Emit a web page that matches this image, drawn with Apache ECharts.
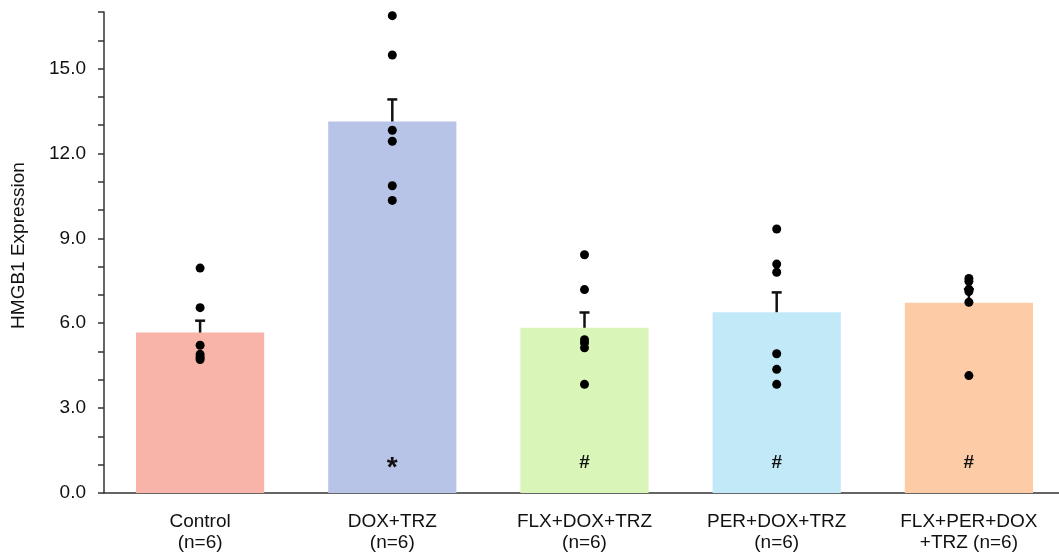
<!DOCTYPE html>
<html>
<head>
<meta charset="utf-8">
<title>HMGB1 Expression</title>
<script src="https://cdn.jsdelivr.net/npm/echarts@6/dist/echarts.min.js"></script>
<style>
html, body { margin: 0; padding: 0; background: #fff; }
#chart { width: 1059px; height: 554px; }
</style>
</head>
<body>
<div id="chart"></div>
<script>
// groups on the x axis
var categories = ['Control\n(n=6)', 'DOX+TRZ\n(n=6)', 'FLX+DOX+TRZ\n(n=6)', 'PER+DOX+TRZ\n(n=6)', 'FLX+PER+DOX\n+TRZ (n=6)'];
var barColors = ['#f8b4a8', '#b8c3e8', '#daf5b8', '#c2e9f8', '#fdcba6'];
var means = [5.67, 13.13, 5.84, 6.39, 6.72];
var sems = [0.42, 0.78, 0.54, 0.70, 0.48];
var marks = ['', '*', '#', '#', '#'];

// individual animals
var dotsControl = [7.95, 6.55, 5.22, 4.9, 4.8, 4.72];
var dotsDox = [16.87, 15.48, 12.82, 12.43, 10.86, 10.34];
var dotsFlx = [8.42, 7.19, 5.42, 5.3, 5.13, 3.84];
var dotsPer = [9.33, 8.09, 7.8, 4.92, 4.37, 3.84];
var dotsFlxPer = [7.58, 7.48, 7.2, 7.12, 6.74, 4.15];

var chart = echarts.init(document.getElementById('chart'));

var allDots = [dotsControl, dotsDox, dotsFlx, dotsPer, dotsFlxPer];
var scatterData = [];
allDots.forEach(function (arr, i) {
    arr.forEach(function (v) { scatterData.push([i, v]); });
});

var barData = means.map(function (v, i) {
    var star = marks[i] === '*';
    return {
        value: v,
        itemStyle: { color: barColors[i] },
        label: {
            formatter: marks[i],
            fontSize: star ? 28 : 19,
            distance: star ? 11 : 21
        }
    };
});

var errData = means.map(function (v, i) { return [i, v, v + sems[i]]; });

var option = {
    animation: false,
    textStyle: { fontFamily: 'Liberation Sans, Arial, sans-serif' },
    grid: { left: 104, right: -6, top: 12, bottom: 61, containLabel: false, outerBoundsMode: 'none' },
    xAxis: {
        type: 'category',
        data: categories,
        axisLine: { lineStyle: { color: '#333', width: 1.5 } },
        axisTick: { alignWithLabel: true, length: 6, lineStyle: { color: '#333', width: 1.5 } },
        axisLabel: { color: '#111', fontSize: 19, lineHeight: 21, margin: 18, interval: 0 }
    },
    yAxis: {
        type: 'value',
        min: 0,
        max: 17,
        interval: 1,
        name: 'HMGB1 Expression',
        nameLocation: 'middle',
        nameGap: 76,
        nameTextStyle: { color: '#111', fontSize: 19, padding: [0, 0, 0, 14] },
        splitLine: { show: false },
        axisLine: { show: true, lineStyle: { color: '#333', width: 1.5 } },
        axisTick: { show: true, inside: false, length: 6, lineStyle: { color: '#333', width: 1.5 } },
        axisLabel: {
            color: '#111', fontSize: 19, margin: 18, showMaxLabel: true,
            formatter: function (v) { return v % 3 === 0 ? v.toFixed(1) : ''; }
        }
    },
    series: [
        {
            type: 'bar',
            data: barData,
            barWidth: '66.7%',
            label: {
                show: true,
                position: 'insideBottom',
                color: '#111',
                fontWeight: 'bold'
            },
            z: 1
        },
        {
            type: 'custom',
            data: errData,
            renderItem: function (params, api) {
                var x = api.value(0);
                var lo = api.coord([x, api.value(1)]);
                var hi = api.coord([x, api.value(2)]);
                var half = 5;
                return {
                    type: 'group',
                    children: [
                        { type: 'line', shape: { x1: lo[0], y1: lo[1], x2: hi[0], y2: hi[1] }, style: { stroke: '#111', lineWidth: 2.5 } },
                        { type: 'line', shape: { x1: hi[0] - half, y1: hi[1], x2: hi[0] + half, y2: hi[1] }, style: { stroke: '#111', lineWidth: 2.5 } }
                    ]
                };
            },
            z: 3
        },
        {
            type: 'scatter',
            data: scatterData,
            symbolSize: 9,
            itemStyle: { color: '#000', opacity: 1 },
            z: 4
        }
    ]
};

chart.setOption(option);
</script>
</body>
</html>
